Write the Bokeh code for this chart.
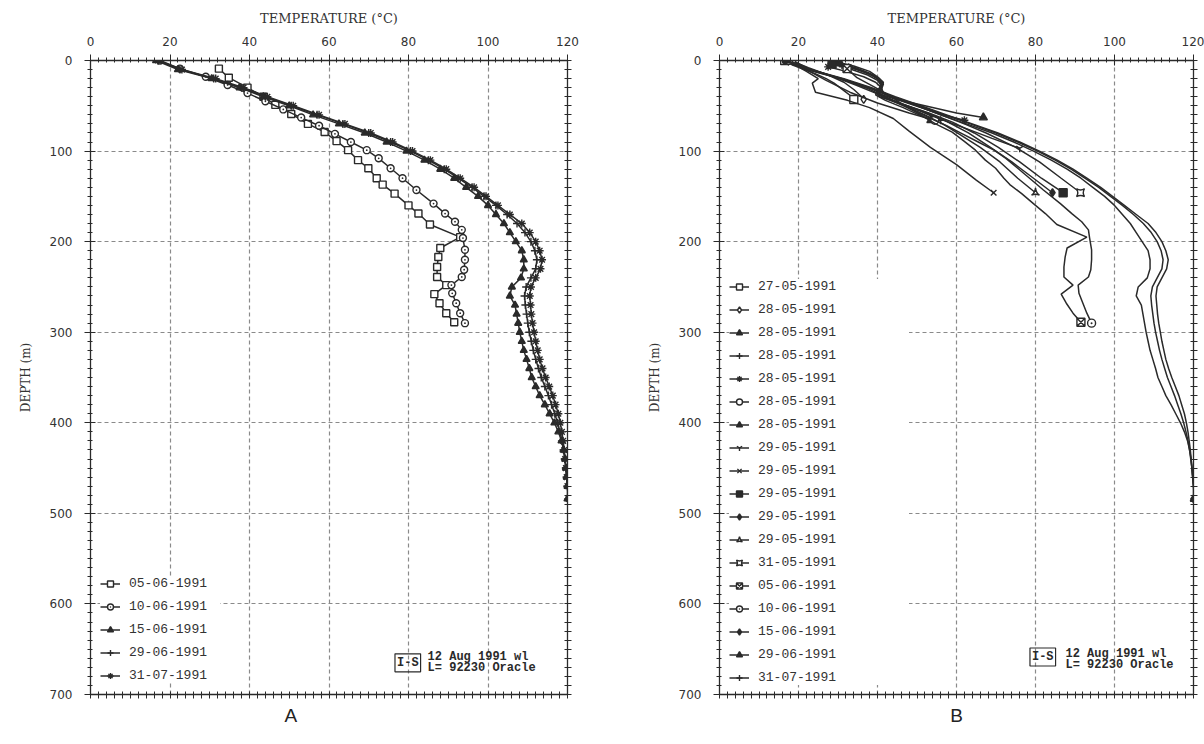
from bokeh.plotting import figure
from bokeh.models import (Range1d, LinearAxis, SingleIntervalTicker, FixedTicker,
                          Legend, LegendItem, Label, Title)
from bokeh.layouts import row
from bokeh.embed import file_html
from bokeh.resources import INLINE

# ---------------------------------------------------------------- data
# depth (m) / temperature (degC) logs of the well

# 05-06-1991
depth_0506 = [9, 19, 30, 40, 49, 59, 70, 79, 89, 99, 110, 119, 130, 137, 147, 160,
              169, 181, 195, 207, 217, 228, 239, 248, 258, 268, 279, 289]
temp_0506 = [32.3, 34.8, 39.5, 43.5, 46.5, 50.5, 54.7, 58.9, 61.9, 64.8, 67.3, 69.9,
             72.0, 73.5, 76.5, 80.0, 82.5, 85.4, 93.0, 88.0, 87.5, 87.2, 87.2, 89.5,
             86.5, 87.8, 89.5, 91.5]

# 10-06-1991
depth_1006 = [0, 9, 18, 27, 36, 45, 54, 63, 72, 81, 90, 99, 108, 119, 130, 143, 158,
              169, 178, 187, 196, 209, 220, 231, 239, 248, 257, 268, 279, 290]
temp_1006 = [17.5, 22.5, 29.0, 34.5, 39.5, 44.0, 48.5, 53.0, 57.5, 61.5, 65.5, 69.5,
             72.5, 75.5, 78.5, 82.0, 86.3, 89.2, 91.7, 93.4, 93.7, 94.2, 94.2, 94.0,
             93.4, 90.8, 91.0, 92.0, 93.0, 94.2]

# 15-06, 29-06 and 31-07-1991 share the same depth stations
depth_deep = [0, 10, 20, 30, 40, 50, 60, 70, 80, 90, 100, 110, 120, 130, 140, 150,
              160, 170, 180, 190, 200, 210, 220, 230, 240, 250, 260, 270, 280, 290,
              300, 310, 320, 330, 340, 350, 360, 370, 380, 390, 400, 410, 420, 430,
              440, 450, 460, 470, 484]
temp_1506 = [16.5, 22.0, 30.5, 37.5, 43.5, 50.0, 56.0, 62.5, 69.0, 74.5,
             79.5, 84.0, 88.0, 91.5, 94.5, 97.5, 100.0, 102.0, 104.0, 105.5,
             107.0, 108.5, 109.0, 109.0, 108.3, 106.0, 105.5, 106.8, 107.2, 107.6,
             108.0, 108.5, 109.0, 109.7, 110.4, 111.0, 112.0, 113.0, 114.3, 115.5,
             116.7, 117.7, 118.5, 119.0, 119.4, 119.6, 119.8, 120.0, 120.0]
temp_2906 = [17.0, 22.5, 31.0, 38.0, 44.0, 50.5, 57.0, 63.5, 70.0, 75.5,
             80.5, 85.0, 89.0, 92.5, 96.0, 99.0, 102.0, 104.8, 107.3, 109.3,
             110.8, 111.8, 112.3, 112.0, 110.8, 109.6, 109.2, 109.4, 109.7, 110.0,
             110.4, 110.9, 111.4, 112.0, 112.7, 113.4, 114.3, 115.2, 116.0, 116.8,
             117.5, 118.1, 118.6, 119.0, 119.3, 119.6, 119.8, 120.0, 120.2]
temp_3107 = [17.0, 23.0, 31.5, 38.5, 44.5, 51.0, 57.5, 64.0, 70.5, 76.0,
             81.0, 85.5, 89.5, 93.0, 96.5, 99.5, 102.5, 105.5, 108.5, 110.5,
             112.0, 113.0, 113.6, 113.2, 112.0, 110.8, 110.5, 110.7, 110.9, 111.2,
             111.6, 112.0, 112.5, 113.0, 113.7, 114.5, 115.4, 116.3, 117.0, 117.7,
             118.2, 118.6, 118.9, 119.2, 119.4, 119.6, 119.8, 120.0, 120.3]

# early logs made while drilling (panel B only)
depth_2705 = [0, 5, 10, 15, 20, 25, 30, 35, 40, 43]
temp_2705 = [16.5, 18.5, 21.5, 24.5, 27.0, 29.0, 30.5, 32.0, 33.5, 34.0]
depth_2805a = [0, 8, 16, 24, 32, 40, 43]
temp_2805a = [18.0, 22.5, 27.5, 31.5, 34.0, 36.0, 36.5]
depth_2805b = [3, 8, 14, 20, 26, 32, 38, 44, 52, 60, 66]
temp_2805b = [29.0, 33.5, 37.5, 40.0, 41.0, 40.5, 39.5, 42.0, 46.5, 50.5, 53.5]
depth_2805c = [5, 10, 16, 22, 28, 34, 40, 48, 56, 66]
temp_2805c = [31.0, 35.0, 38.5, 40.5, 41.0, 40.0, 41.5, 46.0, 51.0, 56.0]
depth_2805d = [7, 12, 18, 24, 30, 36, 44, 52, 60, 66]
temp_2805d = [27.5, 32.0, 36.5, 39.5, 41.0, 41.5, 45.5, 51.0, 56.5, 62.0]
depth_2805e = [0, 10, 22, 35, 47, 58, 66]
temp_2805e = [17.5, 22.0, 27.0, 33.0, 40.0, 48.0, 54.5]
depth_2805f = [2, 6, 12, 18, 24, 30, 36, 42, 50, 58, 63]
temp_2805f = [30.0, 34.0, 38.0, 40.0, 41.5, 41.0, 40.0, 44.0, 52.0, 60.0, 66.8]
depth_2905a = [6, 12, 18, 24, 30, 36, 44, 54, 64, 76, 86, 97]
temp_2905a = [32.0, 36.5, 39.5, 41.0, 40.5, 39.5, 44.0, 50.0, 55.5, 63.0, 69.0, 76.0]
depth_2905b = [2, 12, 20, 25, 35, 44, 52, 64, 78, 96, 115, 132, 146]
temp_2905b = [18.0, 22.0, 25.0, 23.5, 24.3, 32.4, 38.0, 44.0, 48.0, 53.4, 60.0, 65.0, 69.4]
depth_2905c = [4, 10, 16, 22, 28, 34, 40, 48, 58, 68, 80, 96, 112, 130, 146]
temp_2905c = [28.5, 33.5, 37.5, 40.0, 41.0, 40.0, 40.5, 46.0, 53.0, 59.0, 64.5, 70.6,
              76.0, 81.5, 87.0]
depth_2905d = [3, 8, 14, 20, 26, 32, 38, 46, 56, 66, 80, 96, 112, 130, 146]
temp_2905d = [30.5, 34.5, 38.0, 40.5, 41.5, 41.0, 40.0, 45.0, 51.5, 57.0, 63.0, 68.6,
              74.0, 79.5, 84.3]
depth_2905e = [0, 10, 20, 30, 40, 50, 60, 70, 82, 96, 112, 130, 146]
temp_2905e = [17.0, 22.5, 30.5, 37.0, 42.0, 47.0, 52.0, 56.5, 61.0, 66.0, 71.0, 75.5, 80.0]
depth_3105 = [0, 10, 20, 30, 40, 50, 60, 70, 80, 96, 112, 130, 146]
temp_3105 = [18.5, 23.0, 31.0, 38.0, 43.5, 50.0, 56.0, 62.0, 67.5, 75.0, 81.0, 86.5, 91.4]

# ---------------------------------------------------------------- style
INK = "#2a2a2a"
GRID = "#8a8a8a"
TICK_FONT = "DejaVu Sans"
TITLE_FONT = "DejaVu Serif"
MONO = "Liberation Mono"


def style_axis(ax):
    ax.axis_line_color = INK
    ax.axis_line_width = 1.3
    ax.major_tick_line_color = INK
    ax.minor_tick_line_color = INK
    ax.major_tick_in = 5
    ax.major_tick_out = 6
    ax.minor_tick_in = 2
    ax.minor_tick_out = 3
    ax.major_label_text_font = TICK_FONT
    ax.major_label_text_font_size = "12px"
    ax.major_label_text_color = "#333333"
    ax.axis_label_text_font = TITLE_FONT
    ax.axis_label_text_font_style = "normal"
    ax.axis_label_text_color = "#333333"


def make_panel(width, border_left, border_right):
    p = figure(width=width, height=744, x_range=Range1d(0, 120),
               y_range=Range1d(700, 0), x_axis_location="above",
               output_backend="svg", toolbar_location=None,
               min_border_left=border_left, min_border_right=border_right,
               min_border_top=60, min_border_bottom=50)
    p.outline_line_color = None
    p.background_fill_color = "white"
    p.border_fill_color = "white"

    xt = SingleIntervalTicker(interval=20, num_minor_ticks=10)
    yt = SingleIntervalTicker(interval=100, num_minor_ticks=10)
    p.xaxis.ticker = xt
    p.yaxis.ticker = yt
    p.xgrid.ticker = xt
    p.ygrid.ticker = yt
    for ax in p.axis:
        style_axis(ax)

    # frame sides without numbers: tick marks only
    bottom = LinearAxis(ticker=FixedTicker(ticks=[], minor_ticks=list(range(0, 121, 2))))
    right = LinearAxis(ticker=FixedTicker(ticks=[], minor_ticks=list(range(0, 701, 10))))
    for ax in (bottom, right):
        style_axis(ax)
        ax.minor_tick_in = 3
        ax.minor_tick_out = 4
    p.add_layout(bottom, "below")
    p.add_layout(right, "right")

    top = p.xaxis[0]
    top.axis_label = "TEMPERATURE (°C)"
    top.axis_label_text_font_size = "13px"
    top.axis_label_standoff = 8
    top.major_label_standoff = 9
    left = p.yaxis[0]
    left.axis_label = "DEPTH (m)"
    left.axis_label_text_font_size = "12px"
    left.axis_label_standoff = 14
    left.major_label_standoff = 12

    for g in (p.xgrid[0], p.ygrid[0]):
        g.grid_line_color = GRID
        g.grid_line_dash = "4 3"
        g.grid_line_width = 1.2
    return p


def add_log(p, items, label, depth, temp, marker, filled, every_point, size):
    ln = p.line(temp, depth, line_color=INK, line_width=1.5)
    if every_point:
        mx, my = temp, depth
    else:
        mx, my = [temp[0], temp[-1]], [depth[0], depth[-1]]
    sc = p.scatter(mx, my, marker=marker, size=size, line_color=INK,
                   line_width=1.4, fill_color=INK if filled else "white")
    items.append(LegendItem(label=label, renderers=[ln, sc]))


def add_legend(p, items, x, y, label_width, spacing):
    leg = Legend(items=items, location=(x, y), margin=0, padding=6,
                 spacing=spacing, glyph_width=20, glyph_height=15,
                 label_height=15, label_width=label_width, label_standoff=9,
                 label_text_font=MONO, label_text_font_size="13px",
                 label_text_color="#333333", border_line_color=None,
                 background_fill_color="white", background_fill_alpha=1.0)
    p.add_layout(leg)


def add_stamp(p, bx, by, tx, ty1, ty2):
    p.add_layout(Label(x=bx, y=by, text="I-S", text_font=MONO,
                       text_font_size="12px", text_font_style="bold",
                       text_color=INK, text_baseline="middle",
                       border_line_color=INK, border_line_width=1.2,
                       padding=2))
    for yy, txt in ((ty1, "12 Aug 1991 wl"), (ty2, "L= 92230 Oracle")):
        p.add_layout(Label(x=tx, y=yy, text=txt, text_font=MONO,
                           text_font_size="12px", text_font_style="bold",
                           text_color=INK, text_baseline="middle"))


def add_panel_letter(p, letter, align, offset):
    p.add_layout(Title(text=letter, align=align, offset=offset,
                       text_font="Liberation Sans", text_font_size="19px",
                       text_font_style="normal", text_color="#222222",
                       standoff=8), "below")


# ---------------------------------------------------------------- panel A
pa = make_panel(630, 90, 63)
items_a = []
add_log(pa, items_a, "05-06-1991", depth_0506, temp_0506, "square", False, True, 7)
add_log(pa, items_a, "10-06-1991", depth_1006, temp_1006, "circle_dot", False, True, 7)
add_log(pa, items_a, "15-06-1991", depth_deep, temp_1506, "triangle", True, True, 7)
add_log(pa, items_a, "29-06-1991", depth_deep, temp_2906, "cross", False, True, 8)
add_log(pa, items_a, "31-07-1991", depth_deep, temp_3107, "asterisk", False, True, 8)
add_legend(pa, items_a, 10, 11, 91, 8)
add_stamp(pa, 76.6, 665, 84.8, 659, 671)
add_panel_letter(pa, "A", "left", 194)

# ---------------------------------------------------------------- panel B
pb = make_panel(574, 89, 11)
items_b = []
logs_b = [
    ("27-05-1991", depth_2705, temp_2705, "square", False),
    ("28-05-1991", depth_2805a, temp_2805a, "diamond", False),
    ("28-05-1991", depth_2805b, temp_2805b, "triangle", True),
    ("28-05-1991", depth_2805c, temp_2805c, "cross", False),
    ("28-05-1991", depth_2805d, temp_2805d, "asterisk", False),
    ("28-05-1991", depth_2805e, temp_2805e, "circle", False),
    ("28-05-1991", depth_2805f, temp_2805f, "triangle", True),
    ("29-05-1991", depth_2905a, temp_2905a, "y", False),
    ("29-05-1991", depth_2905b, temp_2905b, "x", False),
    ("29-05-1991", depth_2905c, temp_2905c, "square", True),
    ("29-05-1991", depth_2905d, temp_2905d, "diamond", True),
    ("29-05-1991", depth_2905e, temp_2905e, "triangle_pin", False),
    ("31-05-1991", depth_3105, temp_3105, "square_pin", False),
    ("05-06-1991", depth_0506, temp_0506, "square_x", False),
    ("10-06-1991", depth_1006, temp_1006, "circle_dot", False),
    ("15-06-1991", depth_deep, temp_1506, "diamond_cross", False),
    ("29-06-1991", depth_deep, temp_2906, "triangle", True),
    ("31-07-1991", depth_deep, temp_3107, "cross", False),
]
for lab, d, t, mk, fl in logs_b:
    add_log(pb, items_b, lab, d, t, mk, fl, False, 8)
add_legend(pb, items_b, 10, 9, 151, 8)
add_stamp(pb, 78.6, 658.6, 87.6, 654.8, 667.6)
add_panel_letter(pb, "B", "center", 0)

layout = row(pa, pb, spacing=0)
open("out.html", "w").write(file_html(layout, INLINE))
